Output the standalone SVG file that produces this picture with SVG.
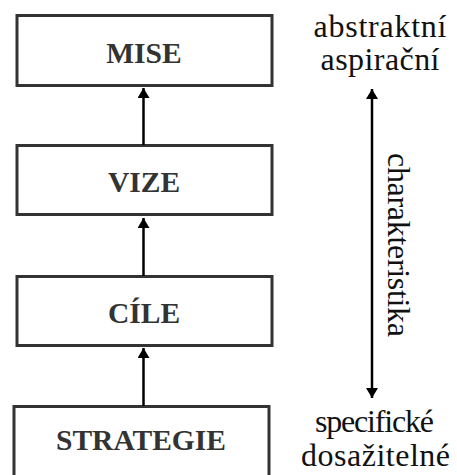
<svg xmlns="http://www.w3.org/2000/svg" width="457" height="475" viewBox="0 0 457 475">
<style>
.box{fill:#fff;stroke:#333;stroke-width:3}
.lbl{font-family:"Liberation Serif","Times New Roman",serif;font-weight:bold;font-size:29.5px;fill:#333;text-anchor:middle}
.side{font-family:"Liberation Serif","Times New Roman",serif;font-size:32px;fill:#111;text-anchor:middle}
.conn{stroke:#000;stroke-width:2.5;fill:none}
</style>
<defs>
<marker id="ah" markerUnits="userSpaceOnUse" markerWidth="14" markerHeight="12" refX="10" refY="6" orient="auto">
<path d="M0,0 L10,6 L0,12 Z" fill="#000"/>
</marker>
</defs>
<rect width="457" height="475" fill="#fff"/>
<g id="mise"><rect class="box" x="17" y="15.5" width="255" height="70"/><text class="lbl" x="144" y="63">MISE</text></g>
<g id="vize"><rect class="box" x="17" y="145.5" width="255" height="69"/><text class="lbl" x="144" y="192">VIZE</text></g>
<g id="cile"><rect class="box" x="17" y="276.5" width="255" height="69"/><text class="lbl" x="144" y="323">CÍLE</text></g>
<g id="strategie"><rect class="box" x="14" y="406.5" width="255" height="75"/><text class="lbl" x="141" y="450">STRATEGIE</text></g>
<g id="connectors">
<line class="conn" x1="143.5" y1="145" x2="143.5" y2="88" marker-end="url(#ah)"/>
<line class="conn" x1="143.5" y1="276" x2="143.5" y2="218" marker-end="url(#ah)"/>
<line class="conn" x1="143.5" y1="406" x2="143.5" y2="348" marker-end="url(#ah)"/>
<line class="conn" x1="372" y1="245" x2="372" y2="89" marker-end="url(#ah)"/>
<line class="conn" x1="372" y1="245" x2="372" y2="398" marker-end="url(#ah)"/>
</g>
<g id="side-labels">
<text class="side" x="380" y="36.5" textLength="133" lengthAdjust="spacing">abstraktní</text>
<text class="side" x="380" y="69.5" textLength="119" lengthAdjust="spacing">aspirační</text>
<text class="side" transform="translate(388,245) rotate(90)" x="0" y="0" textLength="184" lengthAdjust="spacing">charakteristika</text>
<text class="side" x="374.5" y="432" textLength="119" lengthAdjust="spacing">specifické</text>
<text class="side" x="375.5" y="466" textLength="149" lengthAdjust="spacing">dosažitelné</text>
</g>
</svg>
